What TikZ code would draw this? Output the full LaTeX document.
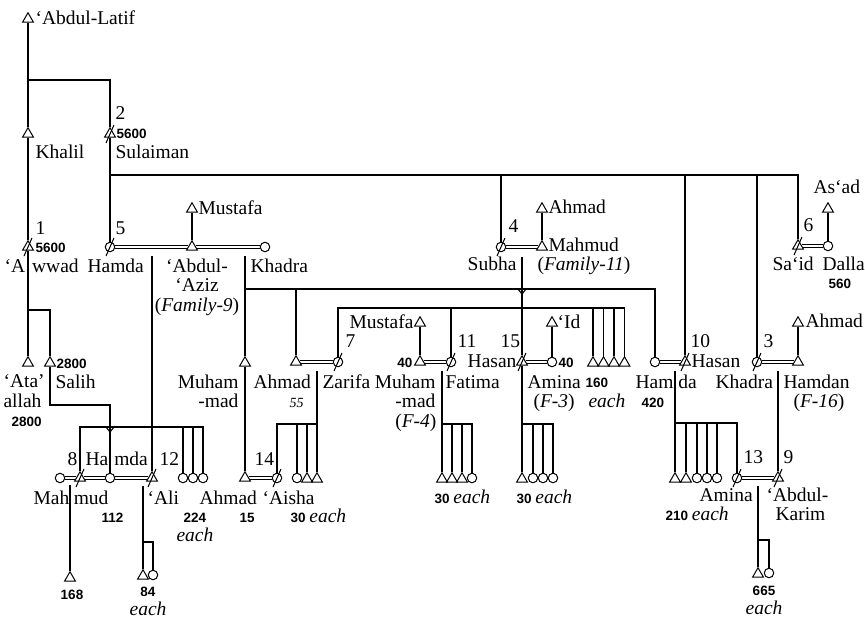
\documentclass[tikz,border=0pt]{standalone}
\usepackage{fontspec}
\setmainfont{Liberation Serif}
\setsansfont{Liberation Sans}
\usetikzlibrary{shapes.geometric,calc}
\newcommand{\eachit}{{\fontsize{19.5}{21}\selectfont\rmfamily\mdseries\itshape each}}
\newcommand{\mrg}[2]{%
  \draw[mline] ([yshift=1.6pt]#1.east) -- ([yshift=1.6pt]#1.east -| #2.west);
  \draw[mline] ([yshift=-1.6pt]#1.east) -- ([yshift=-1.6pt]#1.east -| #2.west);}
\begin{document}
\begin{tikzpicture}[x=1pt,y=-1pt,line width=1.15pt,
  tri/.style={draw, regular polygon, regular polygon sides=3, minimum size=12.5pt, inner sep=0pt, line width=1pt},
  circ/.style={draw, circle, minimum size=9.5pt, inner sep=0pt, line width=1pt},
  lab/.style={inner sep=0pt, font=\fontsize{19.5}{21}\selectfont, anchor=base west},
  labe/.style={lab, anchor=base east},
  labc/.style={lab, anchor=base},
  num/.style={inner sep=0pt, font=\fontsize{13.5}{15}\selectfont\sffamily\bfseries, anchor=base west},
  nume/.style={num, anchor=base east},
  numc/.style={num, anchor=base},
  itl/.style={inner sep=0pt, font=\fontsize{19.5}{21}\selectfont\itshape, anchor=base west},
  itc/.style={itl, anchor=base},
  mline/.style={line width=0.85pt},
  slash/.style={line width=1pt}]
\useasboundingbox (0,0) rectangle (865,619);

% ---------- generation 1-2
\node[tri] (latif) at (28,19) {};
\node[lab] (t-latif) at (35,24) {‘Abdul-Latif};
\node[tri] (khalil) at (28,134) {};
\node[lab] (t-khalil) at (35,158) {Khalil};
\node[tri] (sulaiman) at (110,134) {};
\node[lab] (t-2) at (115,119) {2};
\node[num] (t-5600a) at (116,138) {5600};
\node[lab] (t-sulaiman) at (115,158) {Sulaiman};

% ---------- generation 3
\node[tri] (awwad) at (28,247) {};
\node[lab] (t-1) at (35,234) {1};
\node[num] (t-5600b) at (35,252) {5600};
\node[lab] (t-awwad) at (4,272) {‘A\hspace{7pt}wwad};
\node[circ] (hamda5) at (110,247) {};
\node[lab] (t-5) at (115,234) {5};
\node[lab] (t-hamda5) at (87,272) {Hamda};
\node[tri] (mustafa1) at (192,209) {};
\node[lab] (t-mustafa1) at (198,214) {Mustafa};
\node[tri] (aziz) at (192,247) {};
\node[labc] (t-aziz1) at (197,272) {‘Abdul-};
\node[labc] (t-aziz2) at (197,291) {‘Aziz};
\node[labc] (t-aziz3) at (197,311) {(\textit{Family-9})};
\node[circ] (khadra1) at (265,247) {};
\node[lab] (t-khadra1) at (250,272) {Khadra};

\node[circ] (subha) at (501,247) {};
\node[lab] (t-4) at (508,232) {4};
\node[labe] (t-subha) at (517,270) {Subha};
\node[tri] (ahmad1) at (542,209) {};
\node[lab] (t-ahmad1) at (548,213) {Ahmad};
\node[tri] (mahmud11) at (542,247) {};
\node[lab] (t-mahmud11) at (548,251) {Mahmud};
\node[lab] (t-fam11) at (537,270) {(\textit{Family-11})};

\node[tri] (said) at (798,246) {};
\node[lab] (t-6) at (803,231) {6};
\node[lab] (t-said) at (772,270) {Sa‘id};
\node[circ] (dalla) at (828,246) {};
\node[lab] (t-dalla) at (822,270) {Dalla};
\node[num] (t-560) at (828,288) {560};
\node[tri] (asad) at (828,209) {};
\node[lab] (t-asad) at (813,193) {As‘ad};

% ---------- generation 4
\node[tri] (ata) at (28,363) {};
\node[lab] (t-ata1) at (3,387) {‘Ata’};
\node[lab] (t-ata2) at (3,407) {allah};
\node[num] (t-2800a) at (11,426) {2800};
\node[tri] (salih) at (50,363) {};
\node[num] (t-2800b) at (56,368) {2800};
\node[lab] (t-salih) at (55,388) {Salih};

\node[tri] (muhammad1) at (245,363) {};
\node[labe] (t-muh1a) at (239,388) {Muham};
\node[labe] (t-muh1b) at (239,407) {-mad};
\node[tri] (ahmad55) at (296,362) {};
\node[lab] (t-ahmad55) at (253,388) {Ahmad};
\node[inner sep=0pt, font=\fontsize{14}{16}\selectfont\itshape, anchor=base west] (t-55) at (289,407) {55};
\node[circ] (zarifa) at (338,362) {};
\node[lab] (t-7) at (345,347) {7};
\node[lab] (t-zarifa) at (322,388) {Zarifa};

\node[tri] (mustafa2) at (420,323) {};
\node[labe] (t-mustafa2) at (414,328) {Mustafa};
\node[tri] (muhammad4) at (420,362) {};
\node[nume] (t-40a) at (413,367) {40};
\node[labe] (t-muh4a) at (436,388) {Muham};
\node[labe] (t-muh4b) at (436,407) {-mad};
\node[labe] (t-muh4c) at (437,427) {(\textit{F-4})};
\node[circ] (fatima) at (451,362) {};
\node[lab] (t-11) at (457,347) {11};
\node[lab] (t-fatima) at (445,388) {Fatima};

\node[tri] (hasan15) at (522,362) {};
\node[lab] (t-15) at (500,347) {15};
\node[labe] (t-hasan15) at (517,367) {Hasan};
\node[circ] (amina3) at (552,362) {};
\node[num] (t-40b) at (558,367) {40};
\node[tri] (id) at (552,323) {};
\node[lab] (t-id) at (557,328) {‘Id};
\node[lab] (t-amina3) at (527,388) {Amina};
\node[lab] (t-f3) at (533,407) {(\textit{F-3})};

\node[tri] (s1) at (593,363) {};
\node[tri] (s2) at (603.5,363) {};
\node[tri] (s3) at (614,363) {};
\node[tri] (s4) at (624.5,363) {};
\node[num] (t-160) at (585,387) {160};
\node[itl] (t-each160) at (588,407) {each};

\node[circ] (hamda420) at (655,362) {};
\node[lab] (t-hamda420) at (635,388) {Ham\hspace{5pt}da};
\node[num] (t-420) at (641,407) {420};
\node[tri] (hasan10) at (685,362) {};
\node[lab] (t-10) at (690,347) {10};
\node[lab] (t-hasan10) at (691,367) {Hasan};

\node[circ] (khadra3) at (757,362) {};
\node[lab] (t-3) at (763,347) {3};
\node[lab] (t-khadra3) at (715,388) {Khadra};
\node[tri] (hamdan) at (798,362) {};
\node[lab] (t-hamdan) at (783,388) {Hamdan};
\node[lab] (t-f16) at (793,407) {(\textit{F-16})};
\node[tri] (ahmad3) at (798,323) {};
\node[lab] (t-ahmad3) at (805,327) {Ahmad};

% ---------- generation 5
\node[circ] (wife8) at (60,478) {};
\node[tri] (mahmud8) at (80,478) {};
\node[lab] (t-8) at (67,465) {8};
\node[lab] (t-mahmud8) at (33,504) {Mah\hspace{4.5pt}mud};
\node[circ] (hamdaS) at (110,478) {};
\node[lab] (t-hamdaS) at (85,465) {Ha\hspace{6pt}mda};
\node[num] (t-112) at (101,522) {112};
\node[tri] (ali) at (152,478) {};
\node[lab] (t-12) at (159,465) {12};
\node[lab] (t-ali) at (147,504) {‘Ali};
\node[circ] (g1) at (183,478) {};
\node[circ] (g2) at (193,478) {};
\node[circ] (g3) at (203,478) {};
\node[num] (t-224) at (183,522) {224};
\node[itl] (t-each224) at (176,541) {each};

\node[tri] (ahmad14) at (245,478) {};
\node[lab] (t-14) at (254,465) {14};
\node[lab] (t-ahmad14) at (199,504) {Ahmad};
\node[num] (t-15n) at (239,522) {15};
\node[circ] (aisha) at (277,478) {};
\node[lab] (t-aisha) at (262,504) {‘Aisha};
\node[circ] (a1) at (297,478) {};
\node[tri] (a2) at (307,479) {};
\node[tri] (a3) at (317,479) {};
\node[num] (t-30a) at (290,522) {30 \eachit};

\node[tri] (f1) at (442,479) {};
\node[tri] (f2) at (452,479) {};
\node[tri] (f3) at (462,479) {};
\node[circ] (f4) at (472,478) {};
\node[num] (t-30b) at (434,503) {30 \eachit};

\node[tri] (h1) at (522,479) {};
\node[circ] (h2) at (533,478) {};
\node[circ] (h3) at (543,478) {};
\node[circ] (h4) at (553,478) {};
\node[num] (t-30c) at (516,503) {30 \eachit};

\node[tri] (k1) at (675,479) {};
\node[tri] (k2) at (686,479) {};
\node[circ] (k3) at (697,478) {};
\node[circ] (k4) at (707,478) {};
\node[circ] (k5) at (717,478) {};
\node[num] (t-210) at (665,520) {210 \eachit};
\node[circ] (amina13) at (737,478) {};
\node[lab] (t-13) at (743,463) {13};
\node[lab] (t-amina13) at (699,501) {Amina};
\node[tri] (karim) at (778,478) {};
\node[lab] (t-9) at (783,463) {9};
\node[lab] (t-karim1) at (766,501) {‘Abdul-};
\node[lab] (t-karim2) at (775,520) {Karim};

% ---------- generation 6
\node[tri] (c168) at (70,578) {};
\node[numc] (t-168) at (72,599) {168};
\node[tri] (c84a) at (143,576) {};
\node[circ] (c84b) at (153,575) {};
\node[numc] (t-84) at (148,596) {84};
\node[itc] (t-each84) at (148,615) {each};
\node[tri] (c665a) at (758,574) {};
\node[circ] (c665b) at (769,573) {};
\node[numc] (t-665) at (764,595) {665};
\node[itc] (t-each665) at (764,614) {each};

% ---------- coordinates
\coordinate (jL) at (28,80);
\coordinate (jS) at (110,175);
\coordinate (jA) at (28,310);
\coordinate (m5) at (152,256);
\coordinate (mK) at (245,256);
\coordinate (jK) at (245,289);
\coordinate (m4) at (522,257);
\coordinate (xM) at (522,289);
\coordinate (jM) at (522,308);
\coordinate (jSa) at (110,427);
\coordinate (bSa) at (110,405);
\coordinate (m8) at (70,485);
\coordinate (mA) at (143,486);
\coordinate (jAli) at (143,542);
\coordinate (mZ) at (317,371);
\coordinate (jZ) at (317,424);
\coordinate (mF) at (442,371);
\coordinate (jF) at (442,424);
\coordinate (jH) at (522,424);
\coordinate (mH) at (675,371);
\coordinate (jHH) at (675,423);
\coordinate (mKH) at (778,371);
\coordinate (mAK) at (758,486);
\coordinate (jAK) at (758,540);

% ---------- descent lines
\draw (latif.south) -- (khalil.north);
\draw (jL) -| (sulaiman.north);
\draw (khalil.south) -- (awwad.north);
\draw (sulaiman.south) -- (hamda5.north);
\draw (jS) -| (said.north);
\draw (subha.north) -- (subha.north |- jS);
\draw (hasan10.north) -- (hasan10.north |- jS);
\draw (khadra3.north) -- (khadra3.north |- jS);

\draw (mustafa1.south) -- (aziz.north);
\draw (ahmad1.south) -- (mahmud11.north);
\draw (asad.south) -- (dalla.north);

\draw (awwad.south) -- (ata.north);
\draw (jA) -| (salih.north);

\draw (m5) -- (ali.north);
\draw (mK) -- (muhammad1.north);
\draw (muhammad1.south) -- (ahmad14.north);
\draw (jK) -| (hamda420.north);
\draw (ahmad55.north) -- (ahmad55.north |- jK);

\draw (m4) -- (jM) -- (hasan15.north);
\draw ($(xM)+(-4,0)$) -- ($(xM)+(0,5)$) -- ($(xM)+(4,0)$);
\draw (zarifa.north) |- (jM);
\draw (jM) -| (s4.north);
\foreach \n in {fatima,s1,s2,s3} \draw (\n.north) -- (\n.north |- jM);

\draw (salih.south) |- (bSa) -- (jSa) -- (hamdaS.north);
\draw ($(jSa)+(-4,0)$) -- ($(jSa)+(0,5)$) -- ($(jSa)+(4,0)$);
\draw (mahmud8.north) |- (jSa);
\draw (jSa) -| (g3.north);
\foreach \n in {g1,g2} \draw (\n.north) -- (\n.north |- jSa);

\draw (m8) -- (c168.north);
\draw (mA) -- (c84a.north);
\draw (jAli) -| (c84b.north);

\draw (mZ) -- (a3.north);
\draw (aisha.north) |- (jZ);
\foreach \n in {a1,a2} \draw (\n.north) -- (\n.north |- jZ);

\draw (mustafa2.south) -- (muhammad4.north);
\draw (mF) -- (f1.north);
\draw (jF) -| (f4.north);
\foreach \n in {f2,f3} \draw (\n.north) -- (\n.north |- jF);

\draw (id.south) -- (amina3.north);
\draw (hasan15.south) -- (h1.north);
\draw (jH) -| (h4.north);
\foreach \n in {h2,h3} \draw (\n.north) -- (\n.north |- jH);

\draw (mH) -- (k1.north);
\draw (jHH) -| (amina13.north);
\foreach \n in {k2,k3,k4,k5} \draw (\n.north) -- (\n.north |- jHH);

\draw (ahmad3.south) -- (hamdan.north);
\draw (mKH) -- (karim.north);

\draw (mAK) -- (c665a.north);
\draw (jAK) -| (c665b.north);

% ---------- marriages
\mrg{hamda5}{aziz}
\mrg{aziz}{khadra1}
\mrg{subha}{mahmud11}
\mrg{said}{dalla}
\mrg{ahmad55}{zarifa}
\mrg{muhammad4}{fatima}
\mrg{hasan15}{amina3}
\mrg{hamda420}{hasan10}
\mrg{khadra3}{hamdan}
\mrg{wife8}{mahmud8}
\mrg{mahmud8}{hamdaS}
\mrg{hamdaS}{ali}
\mrg{ahmad14}{aisha}
\mrg{amina13}{karim}

% ---------- deceased
\foreach \n in {sulaiman,awwad,hamda5,subha,said,zarifa,fatima,hasan15,hasan10,khadra3,mahmud8,ali,aisha,amina13,karim}
  \draw[slash] (\n.center) ++(-4,9) -- ++(8,-18);
\end{tikzpicture}
\end{document}
